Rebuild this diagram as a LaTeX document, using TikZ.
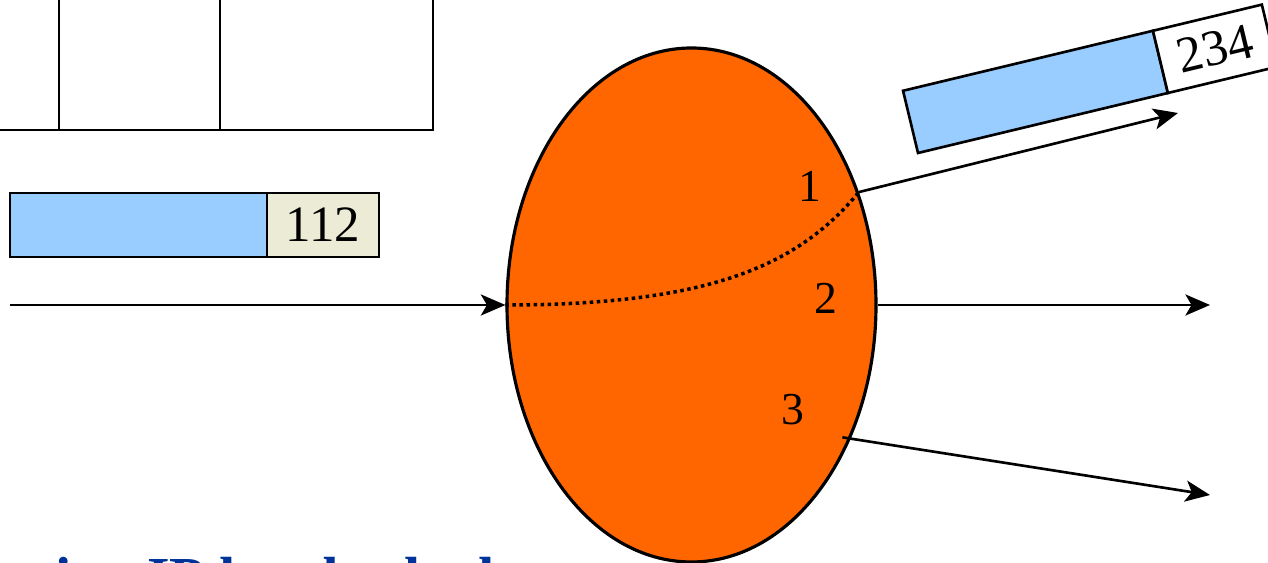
\documentclass[tikz,border=0pt]{standalone}
\usepackage{fontspec}
\setmainfont{Liberation Serif}
\usetikzlibrary{shapes.geometric, arrows.meta, positioning}

\definecolor{pktblue}{RGB}{153,204,255}
\definecolor{tagbeige}{RGB}{236,236,214}
\definecolor{lsrorange}{RGB}{255,102,0}
\definecolor{noteblue}{RGB}{0,51,153}

\begin{document}
\begin{tikzpicture}[
    payload/.style={rectangle, draw, line width=1.5pt, fill=pktblue, minimum width=5.14cm, minimum height=1.28cm, inner sep=0pt, outer sep=0pt},
    tag/.style={rectangle, draw, line width=1.5pt, minimum width=2.24cm, minimum height=1.28cm, inner sep=0pt, outer sep=0pt, font=\fontsize{29}{30}\selectfont},
    port/.style={inner sep=0pt, font=\fontsize{26}{28}\selectfont},
    arrow/.style={-{Stealth[length=14pt, width=12pt, inset=3.5pt]}, line width=1.5pt}
  ]
    \useasboundingbox (0,0) rectangle (25.36,11.26);

    % Label table (cut by the page)
    \draw[line width=1.5pt] (-0.2,8.66) -- (8.66,8.66) -- (8.66,11.5);
    \foreach \x in {1.18,4.4}
      \draw[line width=1.5pt] (\x,8.66) -- (\x,11.5);

    % Incoming packet
    \node[payload, anchor=south west] (pktin) at (0.2,6.12) {};
    \node[tag, fill=tagbeige, right=0pt of pktin] (tagin) {112};

    % Router
    \node[ellipse, draw, line width=1.8pt, fill=lsrorange, minimum width=7.38cm, minimum height=10.28cm, inner sep=0pt] (lsr) at (13.83,5.16) {};

    % Interfaces
    \node[port] (port1) at (16.2,7.54) {1};
    \node[port] (port2) at (16.52,5.3) {2};
    \node[port] (port3) at (15.86,3.06) {3};

    % Links
    \coordinate (inlink) at (0.2,5.16);
    \coordinate (out1) at (23.56,9.0);
    \coordinate (out2) at (24.2,5.16);
    \coordinate (out3) at (24.2,1.36);
    \draw[arrow] (inlink) -- (lsr.west);
    \draw[arrow] (lsr.34) -- (out1);
    \draw[arrow] (lsr.east) -- (out2);
    \draw[arrow, shorten <=-0.17cm] (lsr.-40) -- (out3);

    % Path through the router
    \draw[line width=2pt, dash pattern=on 2pt off 2pt] (lsr.west) .. controls (14.3,5.16) and (16,6.0) .. (lsr.34);

    % Outgoing packet
    \node[payload, rotate=13.5, anchor=south west] (pktout) at (18.36,8.2) {};
    \node[tag, fill=white, rotate=13.5, anchor=south west] (tagout) at (pktout.south east) {234};

    % Caption (cut by the page)
    \node[anchor=base west, inner sep=0pt, text=noteblue, font=\bfseries\fontsize{33}{36}\selectfont] (note) at (0,-0.7) {using IP header lookup};
\end{tikzpicture}
\end{document}
